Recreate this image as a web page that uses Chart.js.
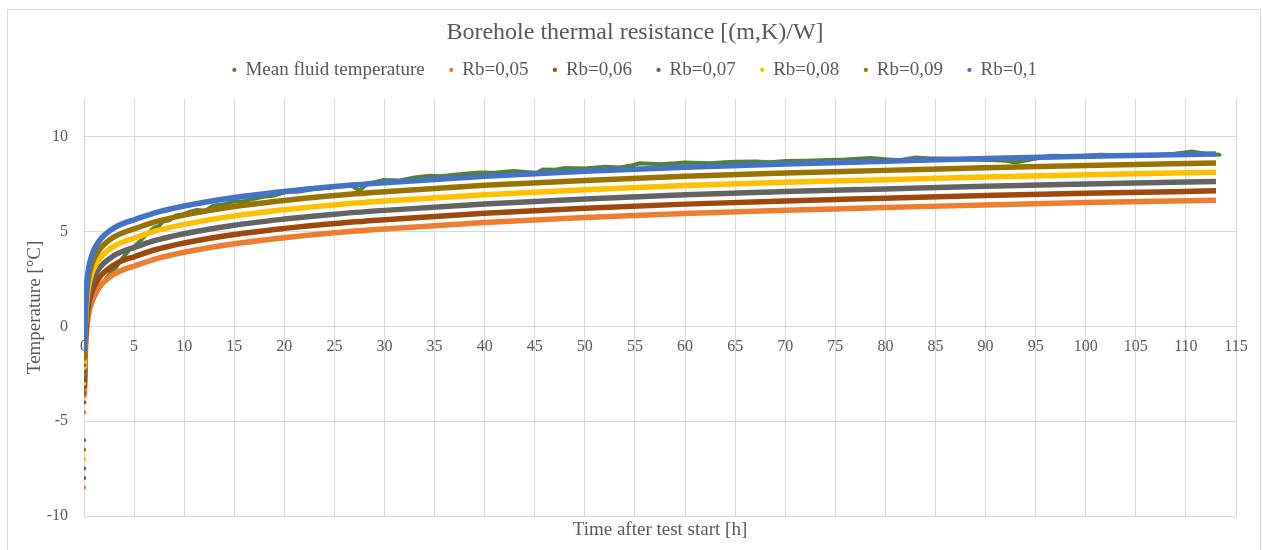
<!DOCTYPE html>
<html>
<head>
  <meta charset="UTF-8">
  <title>Borehole thermal resistance</title>
  <script src="https://cdn.jsdelivr.net/npm/chart.js"></script>
  <style>
    body {
      margin: 0;
      background: #fff;
      overflow: hidden;
    }
    .frame {
      position: absolute;
      left: 7px;
      top: 9px;
      width: 1254px;
      height: 600px;
      border: 1px solid #d9d9d9;
      box-sizing: border-box;
    }
    .chart-box {
      position: absolute;
      left: 0;
      top: 0;
      width: 1262px;
      height: 550px;
    }
  </style>
</head>
<body>
<div class="frame"></div>
<div class="chart-box">
  <canvas id="chart"></canvas>
</div>

<script>
  // time axis of the fitted Rb curves [h]
  const timeH = [0.017, 0.033, 0.05, 0.067, 0.1, 0.15, 0.2, 0.3, 0.5, 0.75, 1, 1.5, 2, 3, 4, 5, 7, 10,
                 15, 20, 25, 30, 40, 50, 60, 70, 80, 90, 100, 113];

  // fitted fluid temperature for each Rb [°C]
  const rb005 = [-8.5, -4.53, -3.68, -2.94, -1.94, -1.24, -0.69, 0.01, 0.76, 1.26, 1.61, 2.06, 2.36, 2.76, 3.01, 3.18, 3.54, 3.91,
                 4.36, 4.68, 4.94, 5.14, 5.48, 5.74, 5.96, 6.13, 6.27, 6.41, 6.53, 6.66];
  const rb006 = [-8.0, -4.0, -3.19, -2.45, -1.45, -0.75, -0.2, 0.5, 1.25, 1.75, 2.1, 2.55, 2.85, 3.25, 3.5, 3.67, 4.03, 4.4,
                 4.85, 5.17, 5.43, 5.63, 5.97, 6.23, 6.45, 6.62, 6.76, 6.9, 7.02, 7.15];
  const rb007 = [-7.5, -3.51, -2.7, -1.96, -0.96, -0.26, 0.29, 0.99, 1.74, 2.24, 2.59, 3.04, 3.34, 3.74, 3.99, 4.16, 4.52, 4.89,
                 5.34, 5.66, 5.92, 6.12, 6.46, 6.72, 6.94, 7.11, 7.25, 7.39, 7.51, 7.64];
  const rb008 = [-7.0, -3.02, -2.2, -1.5, -0.47, 0.23, 0.78, 1.48, 2.23, 2.73, 3.08, 3.53, 3.83, 4.23, 4.48, 4.65, 5.01, 5.38,
                 5.83, 6.15, 6.41, 6.61, 6.95, 7.21, 7.43, 7.6, 7.74, 7.88, 8.0, 8.13];
  const rb009 = [-6.5, -2.53, -1.7, -1.0, 0.02, 0.72, 1.27, 1.97, 2.72, 3.22, 3.57, 4.02, 4.32, 4.72, 4.97, 5.14, 5.5, 5.87,
                 6.32, 6.64, 6.9, 7.1, 7.44, 7.7, 7.92, 8.09, 8.23, 8.37, 8.49, 8.62];
  const rb010 = [-6.0, -2.05, -1.2, -0.5, 0.5, 1.2, 1.75, 2.45, 3.2, 3.7, 4.05, 4.5, 4.8, 5.2, 5.45, 5.62, 5.98, 6.35,
                 6.8, 7.12, 7.38, 7.58, 7.92, 8.18, 8.4, 8.57, 8.71, 8.85, 8.97, 9.1];

  // measured mean fluid temperature
  const fluidTime = [0.1, 0.3, 0.6, 1.0, 1.5, 2.1, 2.8, 3.2, 3.6, 4.1, 4.6, 5.0, 5.5, 6.3, 7.0, 7.5, 7.9, 8.5, 9.2, 10,
                     10.6, 11.3, 12.1, 12.9, 14, 15, 15.7, 16.4, 17.9, 19, 20, 21.5, 22.9, 24.6, 25.5, 26.8, 27.5, 28.2,
                     29.9, 31.5, 33, 34.5, 35.5, 36.5, 38, 39.5, 41, 42, 43, 44, 45.2, 45.8, 47, 48, 50, 52, 53.5, 54.5,
                     55.5, 57.5, 59, 60, 62.5, 64, 65, 67, 68.5, 70, 72, 73.5, 76, 78.5, 80, 81.4, 83, 84.5, 85.5, 88,
                     90.5, 92, 93, 94.5, 96.5, 99, 100.5, 101.5, 104, 106.5, 108.5, 110.6, 112, 113.4];
  const fluidTemp = [-0.8, 0.2, 0.9, 1.5, 2.0, 2.45, 2.95, 3.1, 3.45, 3.75, 4.1, 4.2, 4.45, 4.88, 5.2, 5.3, 5.55, 5.6, 5.85, 5.93,
                     6.05, 6.14, 6.1, 6.37, 6.45, 6.6, 6.58, 6.66, 6.84, 6.9, 7.07, 7.12, 7.25, 7.33, 7.42, 7.4, 7.16, 7.5,
                     7.72, 7.7, 7.85, 7.95, 7.92, 7.98, 8.05, 8.12, 8.1, 8.16, 8.2, 8.15, 8.1, 8.28, 8.26, 8.35, 8.33, 8.42, 8.38, 8.47,
                     8.6, 8.55, 8.6, 8.65, 8.6, 8.66, 8.68, 8.7, 8.66, 8.72, 8.74, 8.77, 8.8, 8.88, 8.82, 8.77, 8.91, 8.86, 8.86, 8.82,
                     8.78, 8.74, 8.65, 8.8, 9.0, 8.98, 9.02, 9.05, 9.02, 9.0, 9.08, 9.23, 9.1, 9.05];

  const rbNames = ['Rb=0,05', 'Rb=0,06', 'Rb=0,07', 'Rb=0,08', 'Rb=0,09', 'Rb=0,1'];
  const rbValues = [rb005, rb006, rb007, rb008, rb009, rb010];
  const rbColors = ['#ED7D31', '#9E480E', '#636363', '#FFC000', '#997300', '#4472C4'];
  const yTicks = [-10, -5, 0, 5, 10];

  const textColor = '#595959';
  const gridColor = '#d9d9d9';
  const serif = 'Liberation Serif';
  const SPARSE = 3; // first few samples show as loose dots only

  const datasets = [{
    label: 'Mean fluid temperature',
    data: fluidTime.map((t, i) => ({ x: t, y: fluidTemp[i] })),
    borderColor: '#548235',
    backgroundColor: '#548235',
    borderWidth: 4,
    pointRadius: 1.6,
    pointBorderWidth: 0,
    tension: 0,
    order: 6,
    xAxisID: 'x',
    yAxisID: 'y'
  }];

  rbNames.forEach((name, k) => {
    datasets.push({
      label: name,
      data: timeH.map((t, i) => ({ x: t, y: rbValues[k][i] })),
      borderColor: rbColors[k],
      backgroundColor: rbColors[k],
      borderWidth: 5.5,
      pointRadius: ctx => ctx.dataIndex < SPARSE ? 2 : 0,
      pointBorderWidth: 0,
      cubicInterpolationMode: 'monotone',
      segment: {
        borderColor: ctx => ctx.p0DataIndex < SPARSE - 1 ? 'transparent' : undefined
      },
      order: 5 - k,
      xAxisID: 'x',
      yAxisID: 'y'
    });
  });

  new Chart(document.getElementById('chart'), {
    type: 'line',
    data: { datasets },
    options: {
      responsive: true,
      maintainAspectRatio: false,
      animation: false,
      layout: { padding: { left: 16, right: 8, top: 0, bottom: 0 } },
      plugins: {
        title: {
          display: true,
          text: 'Borehole thermal resistance [(m,K)/W]',
          color: textColor,
          font: { family: serif, size: 24, weight: 'normal', lineHeight: 0.2 },
          padding: { top: 30.6, bottom: 0 }
        },
        legend: {
          display: true,
          position: 'top',
          labels: {
            usePointStyle: true,
            boxWidth: 3,
            boxHeight: 3,
            padding: 25,
            color: textColor,
            font: { family: serif, size: 19 },
            sort: (a, b) => a.datasetIndex - b.datasetIndex,
            generateLabels: chart =>
              Chart.defaults.plugins.legend.labels.generateLabels(chart).map(l => ({ ...l, lineWidth: 0 }))
          }
        },
        tooltip: { enabled: false }
      },
      scales: {
        x: {
          type: 'linear',
          position: { y: 0 },
          min: 0,
          max: 115,
          ticks: {
            stepSize: 5,
            padding: 11,
            color: textColor,
            font: { family: serif, size: 16 }
          },
          grid: { color: gridColor, drawTicks: false },
          border: { display: false }
        },
        y: {
          type: 'linear',
          position: 'left',
          min: -10,
          max: 12,
          afterBuildTicks: scale => { scale.ticks = yTicks.map(v => ({ value: v })); },
          afterFit: scale => { scale.width = 68; },
          ticks: {
            padding: 16,
            color: textColor,
            font: { family: serif, size: 16 }
          },
          grid: { color: gridColor, drawTicks: false },
          border: { display: false },
          title: {
            display: true,
            text: 'Temperature [°C]',
            color: textColor,
            font: { family: serif, size: 19 },
            padding: { top: 7.6, bottom: 0 }
          }
        },
        // bottom scale only carries the axis title
        x2: {
          type: 'linear',
          position: 'bottom',
          min: 0,
          max: 115,
          afterFit: scale => { scale.height = 34; },
          ticks: { display: false },
          grid: { display: false, drawTicks: false },
          border: { display: false },
          title: {
            display: true,
            text: 'Time after test start [h]',
            color: textColor,
            font: { family: serif, size: 19 },
            padding: { top: 0, bottom: 8.6 }
          }
        },
        // spacer between legend and plot
        xTop: {
          type: 'linear',
          position: 'top',
          min: 0,
          max: 1,
          afterFit: scale => { scale.height = 9.5; },
          ticks: { display: false },
          grid: { display: false, drawTicks: false },
          border: { display: false }
        },
        // spacer right of the plot
        yRight: {
          type: 'linear',
          position: 'right',
          min: 0,
          max: 1,
          afterFit: scale => { scale.width = 18; },
          ticks: { display: false },
          grid: { display: false, drawTicks: false },
          border: { display: false }
        }
      }
    }
  });
</script>
</body>
</html>
